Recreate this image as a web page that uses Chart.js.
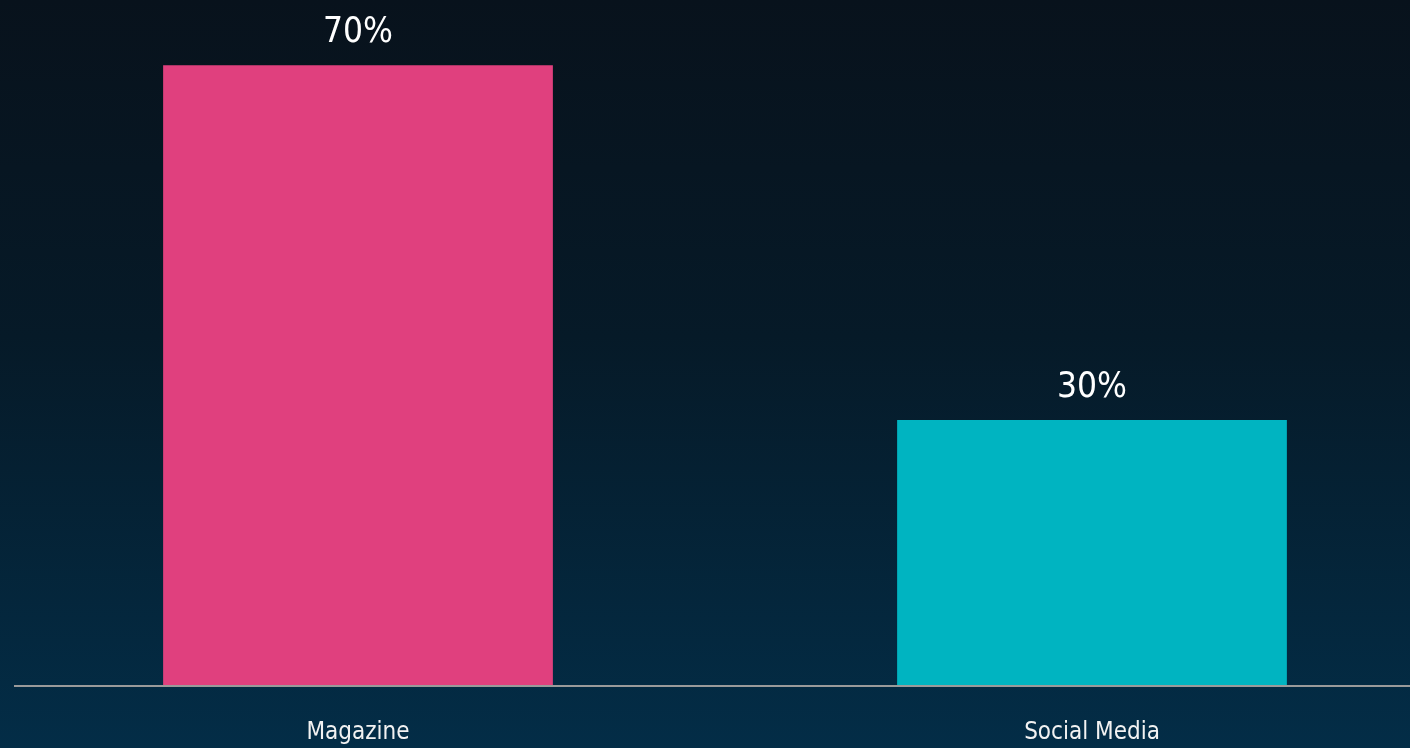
<!DOCTYPE html>
<html>
<head>
<meta charset="utf-8">
<script src="https://cdn.jsdelivr.net/npm/chart.js@4"></script>
<style>
  html, body { margin: 0; padding: 0; width: 1410px; height: 748px; overflow: hidden; }
  body { background: linear-gradient(180deg, #08121c 0%, #061a28 45%, #032d47 100%); position: relative; }
  #wrap { position: absolute; left: -9px; top: 0; width: 1468px; height: 748px; }
</style>
</head>
<body>
<div id="wrap"><canvas id="barChart"></canvas></div>
<script>
const categories = ['Magazine', 'Social Media'];
const shares = [70, 30];
const barColors = ['#e0407e', '#00b4c1'];

const FONT = '"Liberation Sans Narrow", "DejaVu Sans Condensed", Roboto, sans-serif';

// percent labels above the bars + baseline starting a bit in from the left
const valueLabels = {
  id: 'valueLabels',
  afterDatasetsDraw(chart) {
    const ctx = chart.ctx;
    const area = chart.chartArea;
    ctx.save();
    ctx.strokeStyle = '#9a9a9a';
    ctx.lineWidth = 2;
    ctx.beginPath();
    ctx.moveTo(23, area.bottom);
    ctx.lineTo(area.right, area.bottom);
    ctx.stroke();
    ctx.fillStyle = '#ffffff';
    ctx.font = '35px ' + FONT;
    ctx.textAlign = 'center';
    ctx.textBaseline = 'alphabetic';
    chart.getDatasetMeta(0).data.forEach((bar, i) => {
      ctx.fillText(shares[i] + '%', bar.x, bar.y - 23);
    });
    ctx.restore();
  }
};

new Chart(document.getElementById('barChart'), {
  type: 'bar',
  data: {
    labels: categories,
    datasets: [{ data: shares, backgroundColor: barColors, borderWidth: 0,
      categoryPercentage: 1, barPercentage: 0.531 }]
  },
  options: {
    responsive: true, maintainAspectRatio: false, animation: false,
    layout: { padding: { top: 21, bottom: 0, left: 0, right: 0 } },
    plugins: { legend: { display: false }, tooltip: { enabled: false } },
    scales: {
      y: { display: false, min: 0, max: 75 },
      x: {
        grid: { display: false }, border: { display: false },
        afterFit(scale) { scale.height = 62; },
        ticks: { color: '#f2f2f2', padding: 24, font: { family: FONT, size: 24 } }
      }
    }
  },
  plugins: [valueLabels]
});
</script>
</body>
</html>
